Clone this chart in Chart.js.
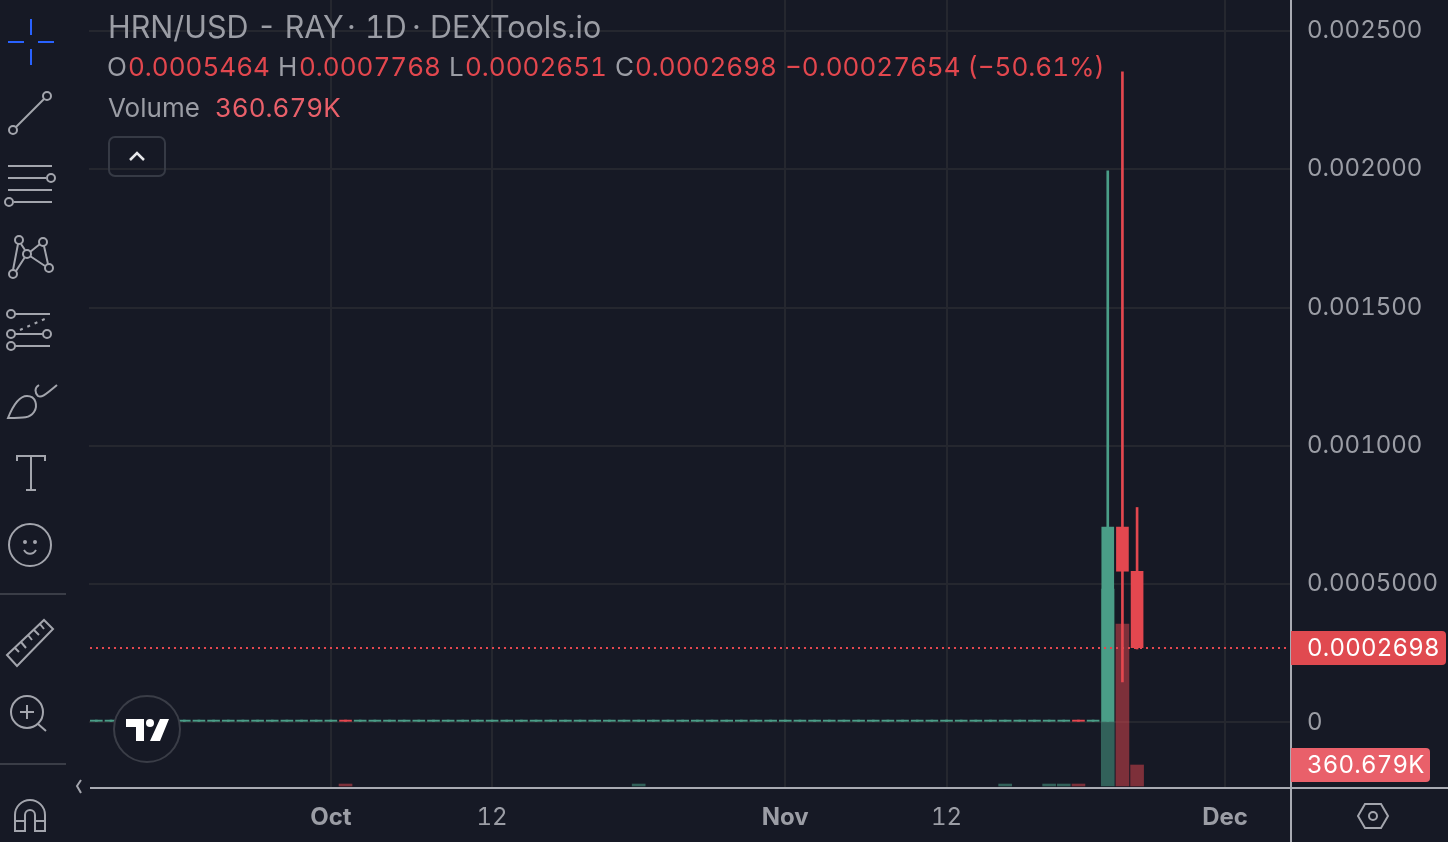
<!DOCTYPE html>
<html lang="en">

<head>
  <meta charset="UTF-8" />
  <title>HRN/USD - RAY</title>
  <style>
    html, body { margin: 0; background: #161925; overflow: hidden; }
    body { width: 1448px; height: 842px; position: relative; font-family: Inter, sans-serif; color: #9b9da5; font-variant-numeric: tabular-nums; }
    canvas { position: absolute; left: 0; top: 0; }
    svg { position: absolute; left: 0; top: 0; }
    .row { position: absolute; white-space: nowrap; line-height: 34px; }
    .red { color: #e2474e; }
    .row span { position: absolute; top: 0; }
  </style>
</head>

<body>
  <canvas id="myChart" width="1448" height="842"></canvas>

  <!-- toolbar and logo -->
  <svg width="1448" height="842" fill="none" stroke="#a3a5ad" stroke-width="2">
    <path d="M31 19V35M31 49V65M8 42H24M38 42H54" stroke="#2962ff" />
    <circle cx="47" cy="96" r="4" /><circle cx="13" cy="130" r="4" /><path d="M16 127L44 99" />
    <path d="M8 166H52M8 178H46M8 190H52M14 202H52" /><circle cx="51" cy="178" r="4" /><circle cx="9" cy="202" r="4" />
    <circle cx="19" cy="240" r="4" /><circle cx="43" cy="242" r="4" /><circle cx="27" cy="254" r="4" /><circle cx="49" cy="268" r="4" /><circle cx="13" cy="274" r="4" />
    <path d="M13 270L18 244M21 244L25 250M16 271L25 257M30 252L40 244M30 256L45 266M44 246L48 264" />
    <circle cx="11" cy="314" r="4" /><circle cx="11" cy="334" r="4" /><circle cx="47" cy="334" r="4" /><circle cx="11" cy="346" r="4" />
    <path d="M15 314H50M15 334H43M15 346H50" /><path d="M20 330L47 318" stroke-dasharray="3 5" />
    <path d="M8 418C12 408 18 396 27 396C36 396 38 406 34 412C30 418 24 418 8 418Z" /><path d="M39 385C34 388 35 393 38 396C41 398 44 396 57 385" />
    <path d="M17 461V456H45V461M31 456V490M26 490H36" />
    <circle cx="30" cy="545" r="21" /><circle cx="25" cy="542" r="1" /><circle cx="35" cy="542" r="1" /><path d="M24 550C27 555 33 555 36 550" />
    <path d="M0 594H66M0 764H66" stroke="#3a3d47" />
    <path d="M7 655L44 620L53 629L17 666ZM15 648L19 652M21 642L26 648M28 635L32 640M34 630L39 635M40 624L44 629" />
    <circle cx="27" cy="712" r="16" /><path d="M20 712H34M27 705V719M38 724L46 731" />
    <path d="M15 831V815A15 15 0 0 1 45 815V831H35V815A5 5 0 0 0 25 815V831ZM15 821H25M35 821H45" />
    <path d="M81 780L77 786L81 793" />
    <path d="M1358 816L1365 804H1381L1388 816L1381 828H1365Z" /><circle cx="1373" cy="816" r="4" />
    <circle cx="147" cy="729" r="33" fill="#161925" stroke="#3a3d47" />
    <path d="M126 719H144V741H136V727H126ZM160 719H169L160 741H150Z" fill="#fff" stroke="none" /><circle cx="150" cy="723" r="4" fill="#fff" stroke="none" />
    <rect x="109" y="137" width="56" height="39" rx="6" stroke="#363a45" />
    <path d="M130 160L137 153L144 160" stroke="#e6e7ea" stroke-width="2.5" />
  </svg>

  <!-- legend -->
  <div class="row" style="left:0;top:10px;font-size:30.5px;">
    <span style="left:108px">HRN/USD - RAY</span><span style="left:347px">·</span><span style="left:365px">1D</span><span style="left:412px">·</span><span style="left:430px">DEXTools.io</span>
  </div>
  <div class="row" style="left:0;top:50px;font-size:26px;">
    <span style="left:107px">O</span><span class="red" style="left:128px">0.0005464</span>
    <span style="left:278px">H</span><span class="red" style="left:299px">0.0007768</span>
    <span style="left:449px">L</span><span class="red" style="left:465px">0.0002651</span>
    <span style="left:615px">C</span><span class="red" style="left:635px">0.0002698</span>
    <span class="red" style="left:785px">−0.00027654 (−50.61%)</span>
  </div>
  <div class="row" style="left:0;top:91px;font-size:26px;">
    <span style="left:108px">Volume</span><span style="left:215px;color:#e9606a">360.679K</span>
  </div>

  <script src="https://cdn.jsdelivr.net/npm/chart.js"></script>

  <script type="text/javascript">
    const dates = [
      'Sep 15', 'Sep 16', 'Sep 17', 'Sep 18', 'Sep 19', 'Sep 20', 'Sep 21', 'Sep 22', 'Sep 23', 'Sep 24', 'Sep 25', 'Sep 26', 'Sep 27', 'Sep 28', 'Sep 29', 'Sep 30',
      'Oct 1', 'Oct 2', 'Oct 3', 'Oct 4', 'Oct 5', 'Oct 6', 'Oct 7', 'Oct 8', 'Oct 9', 'Oct 10', 'Oct 11', 'Oct 12', 'Oct 13', 'Oct 14', 'Oct 15', 'Oct 16',
      'Oct 17', 'Oct 18', 'Oct 19', 'Oct 20', 'Oct 21', 'Oct 22', 'Oct 23', 'Oct 24', 'Oct 25', 'Oct 26', 'Oct 27', 'Oct 28', 'Oct 29', 'Oct 30', 'Oct 31',
      'Nov 1', 'Nov 2', 'Nov 3', 'Nov 4', 'Nov 5', 'Nov 6', 'Nov 7', 'Nov 8', 'Nov 9', 'Nov 10', 'Nov 11', 'Nov 12', 'Nov 13', 'Nov 14', 'Nov 15', 'Nov 16',
      'Nov 17', 'Nov 18', 'Nov 19', 'Nov 20', 'Nov 21', 'Nov 22', 'Nov 23', 'Nov 24', 'Nov 25', 'Nov 26', 'Nov 27', 'Nov 28', 'Nov 29', 'Nov 30',
      'Dec 1', 'Dec 2', 'Dec 3', 'Dec 4', 'Dec 5'
    ];

    // one row per ten days, Sep 15 to Nov 25
    const opens = [
      0, 0, 0, 0, 0, 0, 0, 0, 0, 0,
      0, 0, 0, 0, 0, 0, 0, 0.000008, 0, 0,
      0, 0, 0, 0, 0, 0, 0, 0, 0, 0,
      0, 0, 0, 0, 0, 0, 0, 0, 0, 0,
      0, 0, 0, 0, 0, 0, 0, 0, 0, 0,
      0, 0, 0, 0, 0, 0, 0, 0, 0, 0,
      0, 0, 0, 0, 0, 0, 0, 0.000008, 0, 0,
      0.000706, 0.0005464
    ];
    const closes = [
      0.000008, 0.000008, 0.000008, 0.000008, 0.000008, 0.000008, 0.000008, 0.000008, 0.000008, 0.000008,
      0.000008, 0.000008, 0.000008, 0.000008, 0.000008, 0.000008, 0.000008, 0, 0.000008, 0.000008,
      0.000008, 0.000008, 0.000008, 0.000008, 0.000008, 0.000008, 0.000008, 0.000008, 0.000008, 0.000008,
      0.000008, 0.000008, 0.000008, 0.000008, 0.000008, 0.000008, 0.000008, 0.000008, 0.000008, 0.000008,
      0.000008, 0.000008, 0.000008, 0.000008, 0.000008, 0.000008, 0.000008, 0.000008, 0.000008, 0.000008,
      0.000008, 0.000008, 0.000008, 0.000008, 0.000008, 0.000008, 0.000008, 0.000008, 0.000008, 0.000008,
      0.000008, 0.000008, 0.000008, 0.000008, 0.000008, 0.000008, 0.000008, 0, 0.000008, 0.000706,
      0.0005464, 0.0002698
    ];
    const highs = [
      0.000008, 0.000008, 0.000008, 0.000008, 0.000008, 0.000008, 0.000008, 0.000008, 0.000008, 0.000008,
      0.000008, 0.000008, 0.000008, 0.000008, 0.000008, 0.000008, 0.000008, 0.000008, 0.000008, 0.000008,
      0.000008, 0.000008, 0.000008, 0.000008, 0.000008, 0.000008, 0.000008, 0.000008, 0.000008, 0.000008,
      0.000008, 0.000008, 0.000008, 0.000008, 0.000008, 0.000008, 0.000008, 0.000008, 0.000008, 0.000008,
      0.000008, 0.000008, 0.000008, 0.000008, 0.000008, 0.000008, 0.000008, 0.000008, 0.000008, 0.000008,
      0.000008, 0.000008, 0.000008, 0.000008, 0.000008, 0.000008, 0.000008, 0.000008, 0.000008, 0.000008,
      0.000008, 0.000008, 0.000008, 0.000008, 0.000008, 0.000008, 0.000008, 0.000008, 0.000008, 0.001994,
      0.002352, 0.0007768
    ];
    const lows = [
      0, 0, 0, 0, 0, 0, 0, 0, 0, 0,
      0, 0, 0, 0, 0, 0, 0, 0, 0, 0,
      0, 0, 0, 0, 0, 0, 0, 0, 0, 0,
      0, 0, 0, 0, 0, 0, 0, 0, 0, 0,
      0, 0, 0, 0, 0, 0, 0, 0, 0, 0,
      0, 0, 0, 0, 0, 0, 0, 0, 0, 0,
      0, 0, 0, 0, 0, 0, 0, 0, 0, 0,
      0.000146, 0.0002651
    ];
    const volumes = [
      null, null, null, null, null, null, null, null, null, null,
      null, null, null, null, null, null, null, 34000, null, null,
      null, null, null, null, null, null, null, null, null, null,
      null, null, null, null, null, null, null, 34000, null, null,
      null, null, null, null, null, null, null, null, null, null,
      null, null, null, null, null, null, null, null, null, null,
      null, null, 34000, null, null, 34000, 34000, 34000, null, 3380000,
      2780000, 360679
    ];

    const priceTicks = [0, 0.0005, 0.001, 0.0015, 0.002, 0.0025];
    const priceLabels = ['0', '0.0005000', '0.001000', '0.001500', '0.002000', '0.002500'];
    const timeTicks = ['Oct 1', 'Oct 12', 'Nov 1', 'Nov 12', 'Dec 1'];
    const timeLabels = ['Oct', '12', 'Nov', '12', 'Dec'];
    const boldLabels = ['Oct', 'Nov', 'Dec'];
    const lastClose = 0.0002698;
    const lastVolume = 360679;

    const GREEN = '#4a9d87';
    const RED = '#e4474f';
    const isUp = (i) => closes[i] >= opens[i];
    const candleColors = opens.map((o, i) => isUp(i) ? GREEN : RED);
    const volumeColors = opens.map((o, i) => isUp(i) ? 'rgba(74,157,135,0.55)' : 'rgba(228,71,79,0.5)');

    // price line, tags and the axis frame
    const overlay = {
      id: 'overlay',
      afterDatasetsDraw(chart) {
        const ctx = chart.ctx;
        const a = chart.chartArea;
        const y = Math.round(chart.scales.y.getPixelForValue(lastClose));
        ctx.save();
        ctx.strokeStyle = RED;
        ctx.lineWidth = 2;
        ctx.setLineDash([2, 4]);
        ctx.beginPath();
        ctx.moveTo(a.left + 1, y);
        ctx.lineTo(a.right - 4, y);
        ctx.stroke();
        ctx.restore();
      },
      afterDraw(chart) {
        const ctx = chart.ctx;
        const a = chart.chartArea;
        ctx.save();
        ctx.fillStyle = '#a9abb3';
        ctx.fillRect(a.right - 1, 0, 2, chart.height);
        ctx.fillRect(a.left + 1, a.bottom - 1, chart.width - a.left, 2);
        const tag = (text, y, w, color) => {
          ctx.fillStyle = color;
          ctx.beginPath();
          ctx.roundRect(a.right, y - 17, w, 34, [0, 4, 4, 0]);
          ctx.fill();
          ctx.fillStyle = '#fff';
          ctx.font = '24px Inter';
          ctx.letterSpacing = '0.2px';
          ctx.textBaseline = 'middle';
          ctx.fillText(text, a.right + 16, y + 1);
        };
        tag('0.0002698', Math.round(chart.scales.y.getPixelForValue(lastClose)), 155, '#e04a50');
        tag('360.679K', chart.scales.vol.getPixelForValue(lastVolume), 139, '#e9606a');
        ctx.restore();
      }
    };

    new Chart(document.getElementById('myChart'), {
      type: 'bar',
      data: {
        labels: dates,
        datasets: [
          {
            label: 'Candle',
            data: opens.map((o, i) => [o, closes[i]]),
            backgroundColor: candleColors,
            barThickness: 12,
            grouped: false,
            order: 1,
            yAxisID: 'y'
          },
          {
            label: 'Wick',
            data: lows.map((l, i) => [l, highs[i]]),
            backgroundColor: candleColors,
            barThickness: 2,
            grouped: false,
            order: 2,
            yAxisID: 'y'
          },
          {
            label: 'Volume',
            data: volumes,
            backgroundColor: volumeColors,
            barThickness: 13,
            grouped: false,
            order: 3,
            yAxisID: 'vol'
          }
        ]
      },
      options: {
        responsive: false,
        animation: false,
        layout: { padding: { left: 89, top: 0, right: 0, bottom: 0 } },
        plugins: { legend: { display: false }, tooltip: { enabled: false } },
        scales: {
          x: {
            offset: true,
            border: { display: false },
            grid: { offset: false, color: '#25272f', lineWidth: 2, drawTicks: false },
            afterBuildTicks: (scale) => {
              scale.ticks = scale.ticks.filter((t) => timeTicks.includes(dates[t.value]));
            },
            afterFit: (scale) => {
              scale.height = 54;
              scale.paddingLeft = 0;
              scale.paddingRight = 0;
            },
            ticks: {
              autoSkip: false,
              maxRotation: 0,
              padding: 15,
              color: '#9b9da5',
              font: (ctx) => ({
                family: 'Inter',
                size: 24,
                weight: ctx.tick && boldLabels.includes(ctx.tick.label) ? 'bold' : 'normal'
              }),
              callback: (v) => timeLabels[timeTicks.indexOf(dates[v])]
            }
          },
          y: {
            position: 'right',
            min: -0.0002376,
            max: 0.0026121,
            border: { display: false },
            grid: { color: '#25272f', lineWidth: 2, drawTicks: false },
            afterBuildTicks: (scale) => {
              scale.ticks = priceTicks.map((v) => ({ value: v }));
            },
            afterFit: (scale) => {
              scale.width = 157;
              scale.paddingTop = 0;
              scale.paddingBottom = 0;
            },
            ticks: {
              padding: 16,
              color: '#9b9da5',
              font: { family: 'Inter', size: 24 },
              callback: (v) => priceLabels[priceTicks.indexOf(v)]
            }
          },
          vol: {
            display: false,
            min: -34350,
            max: 13499550
          }
        }
      },
      plugins: [overlay]
    });
  </script>
</body>

</html>
